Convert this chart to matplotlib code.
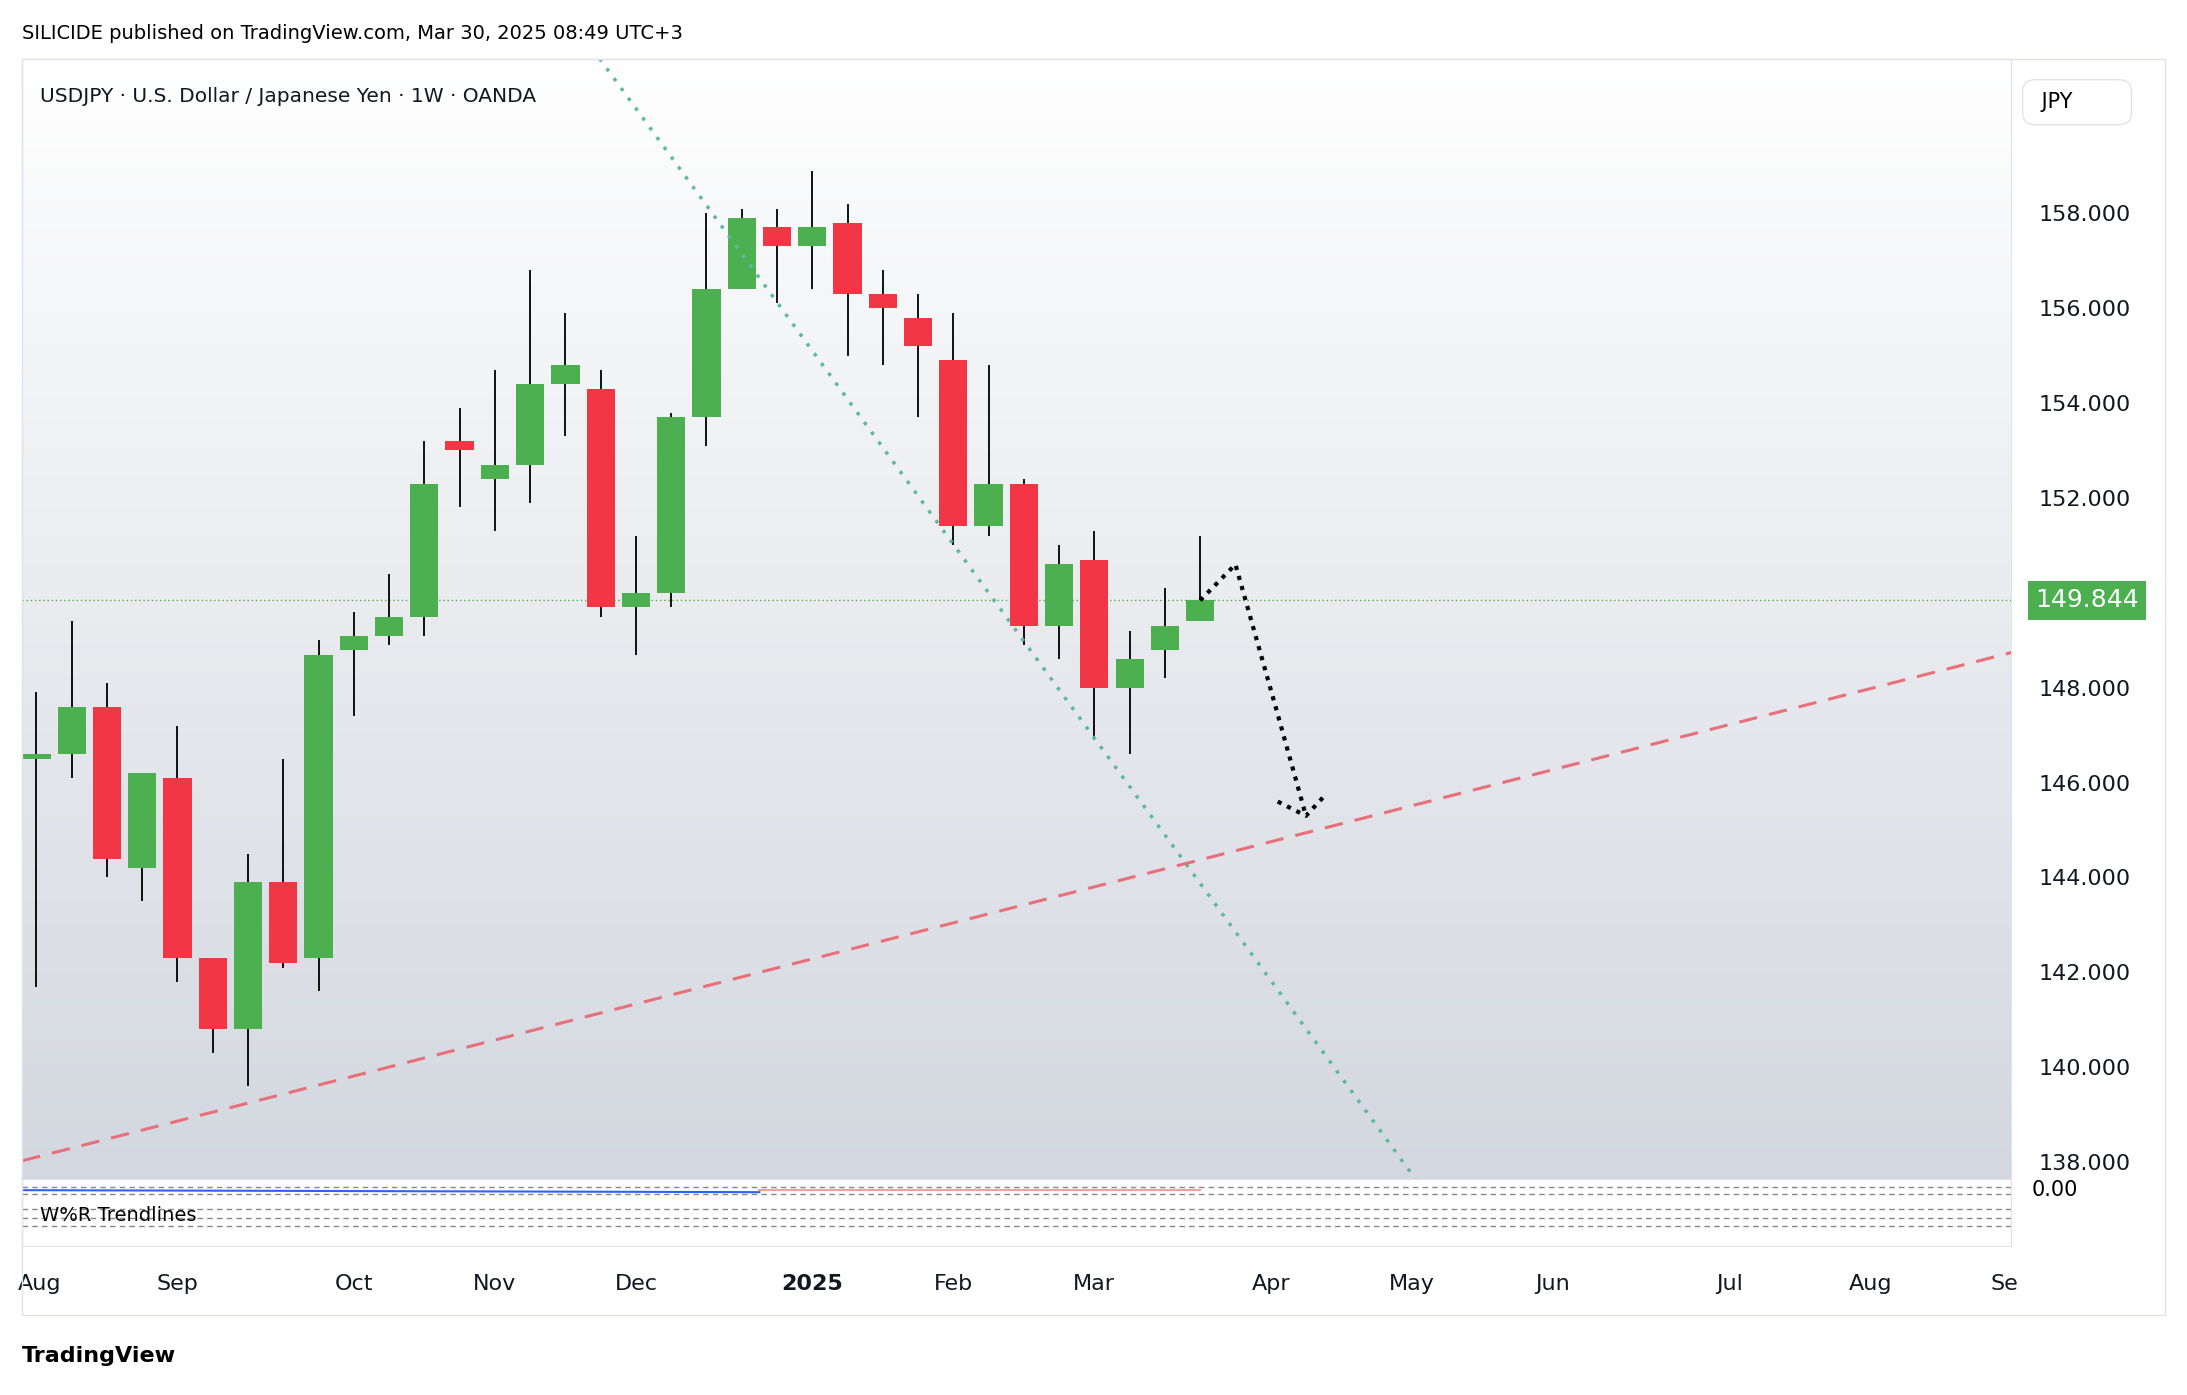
import matplotlib.pyplot as plt
import numpy as np

# weekly candles, USDJPY (index 0 = first visible week in Aug 2024)
opens = [146.5, 146.6, 147.6, 144.2, 146.1, 142.3, 140.8, 143.9, 142.3, 148.8, 149.1, 149.5,
         153.2, 152.4, 152.7, 154.4, 154.3, 149.7, 150.0, 153.7, 156.4, 157.7, 157.3, 157.8,
         156.3, 155.8, 154.9, 151.4, 152.3, 149.3, 150.7, 148.0, 148.8, 149.4]
highs = [147.9, 149.4, 148.1, 146.2, 147.2, 142.3, 144.5, 146.5, 149.0, 149.6, 150.4, 153.2,
         153.9, 154.7, 156.8, 155.9, 154.7, 151.2, 153.8, 158.0, 158.1, 158.1, 158.9, 158.2,
         156.8, 156.3, 155.9, 154.8, 152.4, 151.0, 151.3, 149.2, 150.1, 151.2]
lows = [141.7, 146.1, 144.0, 143.5, 141.8, 140.3, 139.6, 142.1, 141.6, 147.4, 148.9, 149.1,
        151.8, 151.3, 151.9, 153.3, 149.5, 148.7, 149.7, 153.1, 156.4, 156.1, 156.4, 155.0,
        154.8, 153.7, 151.0, 151.2, 148.9, 148.6, 146.9, 146.6, 148.2, 149.8]
closes = [146.6, 147.6, 144.4, 146.2, 142.3, 140.8, 143.9, 142.2, 148.7, 149.1, 149.5, 152.3,
          153.0, 152.7, 154.4, 154.8, 149.7, 150.0, 153.7, 156.4, 157.9, 157.3, 157.7, 156.3,
          156.0, 155.2, 151.4, 152.3, 149.3, 150.6, 148.0, 148.6, 149.3, 149.844]

month_pos = [0.1, 4, 9, 13, 17, 22, 26, 30, 35, 39, 43, 48, 52, 55.8]
month_labels = ["Aug", "Sep", "Oct", "Nov", "Dec", "2025", "Feb", "Mar", "Apr", "May",
                "Jun", "Jul", "Aug", "Se"]
price_ticks = [138, 140, 142, 144, 146, 148, 152, 154, 156, 158]
last_price = 149.844

# drawings (week index, price)
trend_green = ([15.97, 39.1], [161.26, 137.65])
trend_red = ([-0.4, 56.0], [138.03, 148.74])
path_x = [33, 34.0, 35.1, 36.0]
path_y = [149.84, 150.6, 147.7, 145.3]
head_x = [35.2, 36.0, 36.5]
head_y = [145.6, 145.3, 145.7]

UP, DOWN = "#4caf50", "#f23645"
W, H = 1568, 1000


def box(x0, y0, x1, y1):
    return [x0 / W, 1 - y1 / H, (x1 - x0) / W, (y1 - y0) / H]


fig = plt.figure(figsize=(21.87, 13.95), dpi=100)
fig.patch.set_facecolor("white")

ax = fig.add_axes(box(16, 42, 1442, 845))
xlim = (-0.4, 56.0)
ylim = (137.65, 161.26)
ax.set_xlim(*xlim)
ax.set_ylim(*ylim)
grad = np.linspace(1, 0, 256).reshape(-1, 1)
top = np.array([1.0, 1.0, 1.0])
bot = np.array([0xd3, 0xd7, 0xdf]) / 255
img = grad[..., None] * top + (1 - grad[..., None]) * bot
ax.imshow(img, extent=[*xlim, *ylim], aspect="auto", zorder=0)

x = np.arange(len(opens))
colors = [UP if c >= o else DOWN for o, c in zip(opens, closes)]
ax.vlines(x, lows, highs, color="black", lw=1.3, zorder=2)
bottoms = np.minimum(opens, closes)
heights = np.maximum(np.abs(np.array(closes) - np.array(opens)), 0.08)
ax.bar(x, heights, bottom=bottoms, width=0.8, color=colors, zorder=3)

ax.axhline(last_price, color=UP, lw=1, ls=(0, (1, 2)), zorder=1)
ax.plot(*trend_green, color="#5fb8a0", lw=2.5, ls=(0, (1, 2.5)), zorder=4)
ax.plot(*trend_red, color="#e8707a", lw=2.2, ls=(0, (6, 4)), zorder=4)
ax.plot(path_x, path_y, color="black", lw=3, ls=(0, (1, 1.5)), zorder=5)
ax.plot(head_x, head_y, color="black", lw=3, ls=(0, (1, 1.5)), zorder=5)

ax.set_yticks(price_ticks)
ax.yaxis.tick_right()
ax.set_yticklabels([f"{p:.3f}" for p in price_ticks], fontsize=16, color="#131722")
ax.tick_params(axis="y", length=0, pad=20)
ax.set_xticks([])
for s in ax.spines.values():
    s.set_color("#e0e3eb")
ax.text(0.009, 0.975, "USDJPY · U.S. Dollar / Japanese Yen · 1W · OANDA", transform=ax.transAxes,
        fontsize=14.5, color="#131722", va="top")
ax.text(1.012, last_price, f"{last_price:.3f}", transform=ax.get_yaxis_transform(),
        fontsize=18, color="white", va="center", ha="left", zorder=6,
        bbox=dict(boxstyle="square,pad=0.3", fc=UP, ec="none"), clip_on=False)
ax.text(1.012, 0.97, " JPY       ", transform=ax.transAxes, fontsize=15, va="top",
        bbox=dict(boxstyle="round,pad=0.6", fc="white", ec="#e0e3eb"))

# indicator pane
ind = fig.add_axes(box(16, 845, 1442, 893))
ind.set_xlim(*xlim)
ind.set_ylim(0, 1)
for yy in [0.88, 0.78, 0.55, 0.42, 0.3]:
    ind.axhline(yy, color="#888888", lw=1, ls=(0, (4, 3)))
ind.plot([-0.4, 20.5], [0.83, 0.8], color="#2962ff", lw=1.5)
ind.plot([20.5, 33], [0.83, 0.83], color="#f0a0a0", lw=1.5)
ind.text(0.009, 0.45, "W%R Trendlines", transform=ind.transAxes, fontsize=14, va="center")
ind.text(1.01, 0.83, "0.00", transform=ind.transAxes, fontsize=15, va="center")
ind.set_yticks([])
ind.set_xticks(month_pos)
ind.set_xticklabels(month_labels, fontsize=16, color="#131722")
ind.get_xticklabels()[5].set_fontweight("bold")
ind.tick_params(axis="x", length=0, pad=20)
for s in ind.spines.values():
    s.set_color("#e0e3eb")

fig.text(16 / W, 1 - 24 / H, "SILICIDE published on TradingView.com, Mar 30, 2025 08:49 UTC+3",
         fontsize=14, va="center")
fig.text(16 / W, 1 - 972 / H, "TradingView", fontsize=16, va="center", fontweight="bold")
fig.patches.append(plt.Rectangle((16 / W, 1 - 943 / H), 1536 / W, 901 / H, fill=False,
                                 ec="#e0e3eb", transform=fig.transFigure))

fig.savefig("out.png", dpi=100)
